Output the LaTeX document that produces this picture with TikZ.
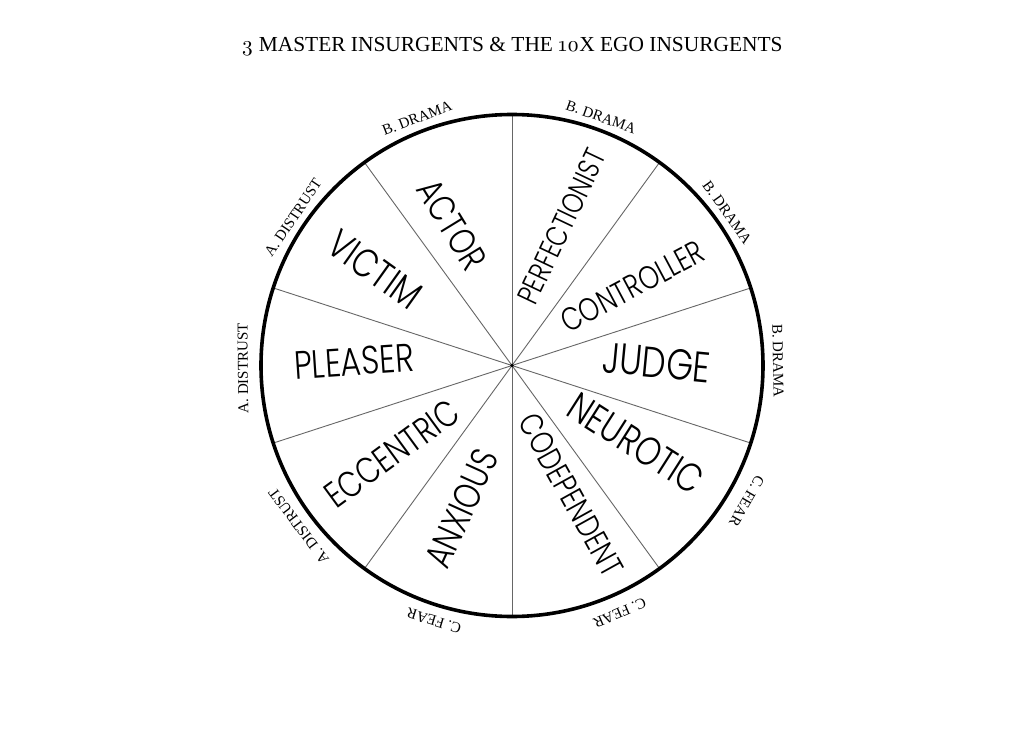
\documentclass[tikz,border=0pt]{standalone}
\usepackage{fontspec}
\setmainfont{Liberation Serif}
\newfontfamily\osf{lmroman10-regular}[Extension=.otf,Numbers=OldStyle]
\newfontfamily\fut{Poppins Light}[FakeStretch=0.8]
\begin{document}
\begin{tikzpicture}[x=1pt,y=1pt,
  spoke/.style={draw=black!60,line width=0.9pt},
  rim/.style={draw=black,line width=3.6pt},
  seclab/.style={font=\fut\fontsize{#1}{#1}\selectfont,inner sep=0pt},
  outlab/.style={font=\fontsize{15}{15}\selectfont,inner sep=0pt},
  titlelab/.style={font=\fontsize{21.4}{24}\selectfont,inner sep=0pt,anchor=base}]
\useasboundingbox (-512,-365.5) rectangle (512,365.5);
\fill[white] (-512,-365.5) rectangle (512,365.5);
\coordinate (c) at (0,0);
\foreach \a in {90,54,18,-18,-54,-90,-126,-162,162,126}
  \draw[spoke] (c) -- (\a:251);
\draw[rim] (c) circle (251);
\fill (c) circle (1.8);
% title
\node[titlelab] (title) at (0,313.5) {{\osf 3} MASTER INSURGENTS \& THE {\osf 10}X EGO INSURGENTS};
% sector labels
\node[seclab=30,rotate=64.6] (perf) at (49.5,139) {PERFECTIONIST};
\node[seclab=32.4,rotate=28] (ctrl) at (120.5,79) {CONTROLLER};
\node[seclab=43,rotate=-5.5] (judge) at (144.5,3) {JUDGE};
\node[seclab=40,rotate=-32.5] (neur) at (124,-78) {NEUROTIC};
\node[seclab=32.5,rotate=-61] (codep) at (59,-129.5) {CODEPENDENT};
\node[seclab=37.5,rotate=65.7] (anx) at (-50.5,-143) {ANXIOUS};
\node[seclab=36.5,rotate=36.2] (ecc) at (-120,-88) {ECCENTRIC};
\node[seclab=39.5,rotate=3.9] (pleas) at (-158,4) {PLEASER};
\node[seclab=40,rotate=-35.5] (vict) at (-137,96) {VICTIM};
\node[seclab=37,rotate=-58.5] (actor) at (-60,141) {ACTOR};
% outer labels
\node[outlab,rotate=21] (o1) at (111:265) {B. DRAMA};
\node[outlab,rotate=-19.7] (o2) at (70.3:264) {B. DRAMA};
\node[outlab,rotate=-54.6] (o3) at (35.4:264) {B. DRAMA};
\node[outlab,rotate=-89] (o4) at (1:266) {B. DRAMA};
\node[outlab,rotate=-120] (o5) at (-30:271) {C. FEAR};
\node[outlab,rotate=-156.5] (o6) at (-66.5:270) {C. FEAR};
\node[outlab,rotate=163] (o7) at (-107:267) {C. FEAR};
\node[outlab,rotate=127] (o8) at (-143:267) {A. DISTRUST};
\node[outlab,rotate=90.6] (o9) at (-179.4:269) {A. DISTRUST};
\node[outlab,rotate=56] (o10) at (146:264) {A. DISTRUST};
\end{tikzpicture}
\end{document}
